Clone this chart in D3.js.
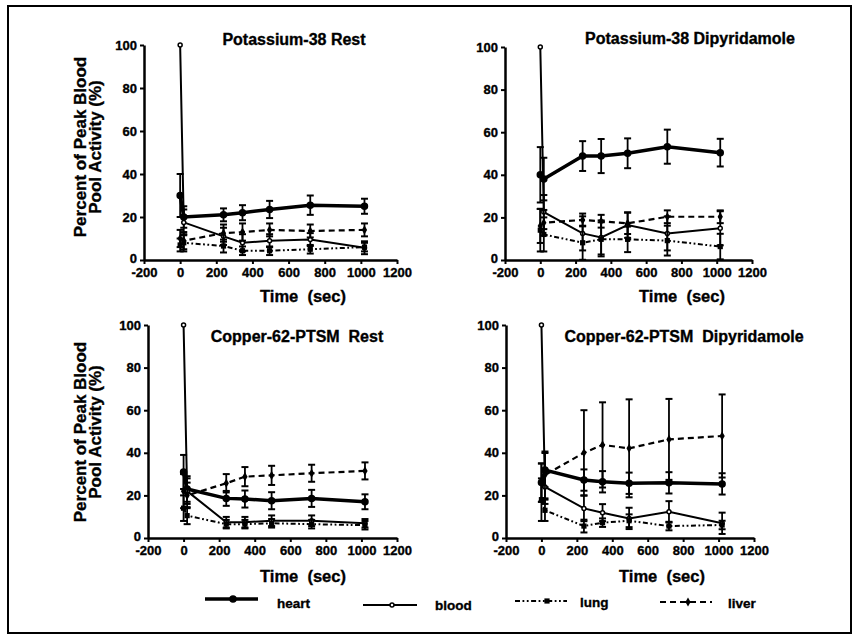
<html><head>
<meta charset="utf-8">
<script src="https://cdnjs.cloudflare.com/ajax/libs/d3/7.8.5/d3.min.js"></script>
<style>
body { margin: 0; background: white; }
text { font-family: 'Liberation Sans', Arial, sans-serif; font-weight: bold; fill: black; white-space: pre;
  stroke: black; stroke-width: 0.35px; }
</style>
</head>
<body>
<svg id="chart" width="858" height="640"></svg>
<script>
// sample times (sec), shared by every panel
const times = [0, 20, 240, 345, 495, 720, 1020];
const seriesNames = ["heart", "blood", "lung", "liver"];
const xTicks = [-200, 0, 200, 400, 600, 800, 1000, 1200];
const yTicks = [0, 20, 40, 60, 80, 100];

// means per series (heart, blood, lung, liver) and their error bars
const k38RestMeans = [
  [30, 20, 21, 22, 23.5, 25.5, 25],
  [100, 17.5, 11, 8, 9, 9.5, 5.7],
  [7, 8, 6.5, 4.3, 4.3, 5, 6],
  [10, 9, 12.5, 13, 14, 13.5, 14]
];
const k38RestErrs = [
  [10, 5, 3, 3.5, 4, 4.5, 3.5],
  [0, 6, 4, 4, 3, 3, 3],
  [3, 4, 3, 2, 2, 2, 2],
  [4, 4, 4, 4, 3, 3, 3]
];
const k38DipMeans = [
  [40, 38, 48.8, 48.8, 50.1, 53.2, 50.4],
  [100, 22.5, 12.5, 10.6, 16.4, 12.5, 14.9],
  [14, 12, 8.1, 9.7, 9.7, 9.1, 6.3],
  [16, 17.5, 18.8, 18.2, 17.2, 20.3, 20.3]
];
const k38DipErrs = [
  [13, 10, 7, 8, 7, 8, 6.5],
  [0, 8, 8, 8, 6, 8, 8],
  [10, 8, 8, 8, 6, 7, 6],
  [8, 6, 3, 3, 5, 3, 3]
];
const cuRestMeans = [
  [31, 23, 18.6, 18.3, 17.5, 18.6, 17],
  [100, 22, 7.4, 7.4, 8.1, 8.1, 6.9],
  [14, 10.5, 6.5, 6.5, 6.9, 6.5, 6],
  [22, 20, 25.7, 28.8, 29.4, 30.4, 31.5]
];
const cuRestErrs = [
  [8, 6, 3.5, 4, 4, 4, 3.5],
  [0, 6, 2.5, 2.5, 2.5, 2.5, 2],
  [6, 4, 2, 2, 2, 2, 2],
  [8, 6, 4.3, 4.5, 4.5, 4, 4]
];
const cuDipMeans = [
  [26, 31.9, 27.2, 26.4, 25.7, 25.9, 25.4],
  [100, 24, 13.9, 11.9, 9.2, 12.3, 6.9],
  [18, 13, 5.6, 7.2, 8.1, 5.6, 6.1],
  [26, 29.6, 40, 43.7, 42.1, 46.3, 47.9]
];
const cuDipErrs = [
  [9, 8, 5, 5, 5, 5, 5],
  [0, 8, 6, 4, 5, 5, 5],
  [10, 5, 3, 2, 3, 2, 2],
  [9, 11, 20, 20, 23, 19, 19.5]
];

const panelTitles = ["Potassium-38 Rest", "Potassium-38 Dipyridamole", "Copper-62-PTSM  Rest", "Copper-62-PTSM  Dipyridamole"];

// layout of the four panels
const panels = [
  {title: panelTitles[0], means: k38RestMeans, errs: k38RestErrs, x: [144, 397], y: [260, 45], tx: 294, ty: 45, lx: 303, ly: 302, ylab: 147},
  {title: panelTitles[1], means: k38DipMeans, errs: k38DipErrs, x: [505, 752], y: [260, 47], tx: 690, ty: 44, lx: 682, ly: 302},
  {title: panelTitles[2], means: cuRestMeans, errs: cuRestErrs, x: [148, 397], y: [538, 325], tx: 297, ty: 342, lx: 303, ly: 582, ylab: 432},
  {title: panelTitles[3], means: cuDipMeans, errs: cuDipErrs, x: [506, 754], y: [538, 325], tx: 684, ty: 342, lx: 662, ly: 582}
];

const styles = {
  heart: {width: 3.5, dash: null, marker: "circle", r: 3, fill: "black"},
  blood: {width: 2, dash: null, marker: "circle", r: 2, fill: "white"},
  lung: {width: 2, dash: "5,2.5,1.8,2.5,1.8,2.5", marker: "square", r: 2.6, fill: "black"},
  liver: {width: 2.2, dash: "6,4", marker: "diamond", r: 4, fill: "black"}
};

const svg = d3.select("#chart");

// frame
svg.append("rect").attr("x", 8).attr("y", 6).attr("width", 843).attr("height", 627)
  .attr("fill", "none").attr("stroke", "black").attr("stroke-width", 2);

function drawMarker(g, name, cx, cy) {
  const s = styles[name];
  if (s.marker === "circle") {
    g.append("circle").attr("cx", cx).attr("cy", cy).attr("r", s.r)
      .attr("fill", s.fill).attr("stroke", "black").attr("stroke-width", 1.5);
  } else if (s.marker === "square") {
    g.append("rect").attr("x", cx - s.r).attr("y", cy - s.r).attr("width", 2 * s.r).attr("height", 2 * s.r)
      .attr("fill", "black");
  } else {
    g.append("path").attr("d", d3.symbol(d3.symbolDiamond, 24)()).attr("transform", `translate(${cx},${cy})`)
      .attr("fill", "black");
  }
}

panels.forEach(p => {
  const x = d3.scaleLinear().domain([-200, 1200]).range(p.x);
  const y = d3.scaleLinear().domain([0, 100]).range(p.y);
  const g = svg.append("g");

  const xAxis = g.append("g").attr("transform", `translate(0,${p.y[0]})`)
    .call(d3.axisBottom(x).tickValues(xTicks).tickFormat(d => String(d)).tickSize(4).tickSizeOuter(0).tickPadding(4));
  const yAxis = g.append("g").attr("transform", `translate(${p.x[0]},0)`)
    .call(d3.axisLeft(y).tickValues(yTicks).tickFormat(d => String(d)).tickSize(4).tickSizeOuter(0).tickPadding(3));
  [xAxis, yAxis].forEach(a => {
    a.select(".domain").attr("stroke-width", 2.5);
    a.selectAll(".tick line").attr("stroke-width", 2);
    a.selectAll("text").style("font-size", "13px").style("font-family", "'Liberation Sans', Arial, sans-serif")
      .style("font-weight", "bold").attr("fill", "black");
  });
  // lift the "0" label a touch so it clears the first x label
  yAxis.selectAll(".tick text").filter(d => d === 0).attr("dy", "0.2em");

  seriesNames.forEach((name, si) => {
    const s = styles[name];
    const pts = times.map((t, i) => ({t, v: p.means[si][i], e: p.errs[si][i]}));
    // error bars
    pts.forEach(d => {
      if (!d.e) return;
      const lo = y(Math.max(0, d.v - d.e)), hi = y(d.v + d.e), cx = x(d.t);
      g.append("line").attr("x1", cx).attr("x2", cx).attr("y1", lo).attr("y2", hi)
        .attr("stroke", "black").attr("stroke-width", 1.8);
      [lo, hi].forEach(yy => g.append("line").attr("x1", cx - 3.5).attr("x2", cx + 3.5).attr("y1", yy).attr("y2", yy)
        .attr("stroke", "black").attr("stroke-width", 2));
    });
    g.append("path").datum(pts)
      .attr("d", d3.line().x(d => x(d.t)).y(d => y(d.v)))
      .attr("fill", "none").attr("stroke", "black").attr("stroke-width", s.width)
      .attr("stroke-dasharray", s.dash);
    pts.forEach(d => drawMarker(g, name, x(d.t), y(d.v)));
  });

  g.append("text").attr("x", p.tx).attr("y", p.ty).attr("text-anchor", "middle")
    .style("font-size", "16px").text(p.title);
  g.append("text").attr("x", p.lx).attr("y", p.ly).attr("text-anchor", "middle")
    .style("font-size", "16.5px").text("Time  (sec)");
  if (p.ylab) {
    const yl = g.append("text").attr("transform", `translate(86,${p.ylab}) rotate(-90)`)
      .attr("text-anchor", "middle").style("font-size", "17px");
    yl.append("tspan").attr("x", 0).attr("dy", 0).text("Percent of Peak Blood");
    yl.append("tspan").attr("x", 0).attr("dy", 15).text("Pool Activity (%)");
  }
});

// legend
const legendItems = [
  {name: "heart", x0: 205, x1: 258, mx: 233, y: 599, tx: 277, ty: 608},
  {name: "blood", x0: 363, x1: 417, mx: 392, y: 605, tx: 435, ty: 610},
  {name: "lung", x0: 515, x1: 567, mx: 547, y: 601, tx: 580, ty: 607},
  {name: "liver", x0: 660, x1: 712, mx: 688, y: 602, tx: 728, ty: 608}
];
legendItems.forEach(l => {
  const s = styles[l.name];
  svg.append("line").attr("x1", l.x0).attr("x2", l.x1).attr("y1", l.y).attr("y2", l.y)
    .attr("stroke", "black").attr("stroke-width", s.width).attr("stroke-dasharray", s.dash);
  drawMarker(svg, l.name, l.mx, l.y);
  svg.append("text").attr("x", l.tx).attr("y", l.ty).style("font-size", "13.5px").text(l.name);
});
</script>
</body>
</html>
